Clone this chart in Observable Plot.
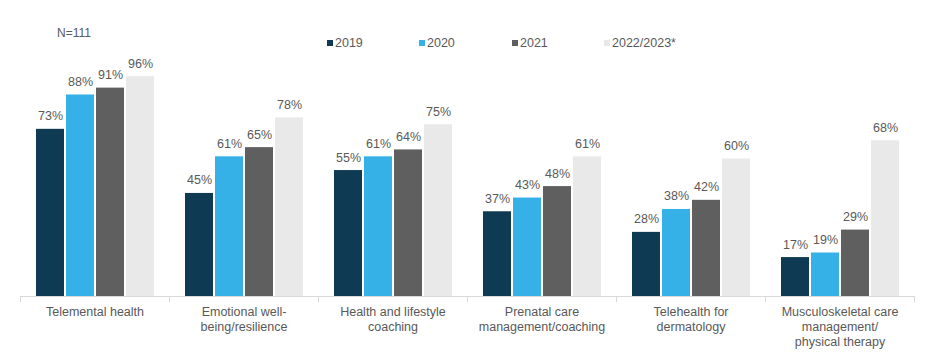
<!DOCTYPE html>
<html><head><meta charset="utf-8">
<script src="https://cdn.jsdelivr.net/npm/d3@7"></script>
<script src="https://cdn.jsdelivr.net/npm/@observablehq/plot@0.6"></script>
<style>
body{margin:0;background:#fff;font-family:"Liberation Sans",Arial,sans-serif;}
#wrap{position:relative;width:925px;height:361px;overflow:hidden}
#chart svg{position:absolute;left:0;top:0}
.t{position:absolute;color:#595959;font-size:12.5px;line-height:14px;white-space:nowrap}
.sw{position:absolute;width:6px;height:6px}
</style></head><body>
<div id="wrap"><div id="chart"></div><div id="legend"></div><div class="t" style="left:57px;top:26px;font-size:12px">N=111</div></div>
<script>
const categories = ["Telemental health","Emotional well-being/resilience","Health and lifestyle coaching","Prenatal care management/coaching","Telehealth for dermatology","Musculoskeletal care management/physical therapy"];
const categoryLabels = ["Telemental health","Emotional well-\nbeing/resilience","Health and lifestyle\ncoaching","Prenatal care\nmanagement/coaching","Telehealth for\ndermatology","Musculoskeletal care\nmanagement/\nphysical therapy"];
const years = ["2019","2020","2021","2022/2023*"];
const v2019 = [73,45,55,37,28,17];
const v2020 = [88,61,61,43,38,19];
const v2021 = [91,65,64,48,42,29];
const v2022 = [96,78,75,61,60,68];
const colors = ["#0f3a53","#36b1e7","#5f5f5f","#e9e9e9"];

const series = [v2019, v2020, v2021, v2022];
const data = [];
categories.forEach((c, i) => years.forEach((y, k) => data.push({category: c, year: y, value: series[k][i]})));
const labelRows = categories.map((c, i) => ({category: c, label: categoryLabels[i]}));

const grid = "#d9d9d9";
const textColor = "#595959";
const chart = Plot.plot({
  width: 925, height: 361,
  marginTop: 67, marginBottom: 65, marginLeft: 20, marginRight: 11,
  style: {fontFamily: "Liberation Sans, Arial, sans-serif", fontSize: "12.5px", background: "white"},
  fx: {domain: categories, padding: 0, axis: null},
  x: {domain: years, paddingInner: 2/30, paddingOuter: 0.5, axis: null},
  y: {domain: [0, 100], axis: null},
  color: {domain: years, range: colors},
  marks: [
    Plot.barY(data, {fx: "category", x: "year", y: "value", fill: "year"}),
    Plot.text(data, {fx: "category", x: "year", y: "value", text: d => d.value + "%", dy: -13, fill: textColor, fontSize: 12.5}),
    Plot.ruleY([0], {stroke: grid}),
    Plot.ruleX(categories, {fx: d => d, x: () => years[0], y1: 0, y2: -2.7, dx: -30, stroke: grid}),
    Plot.ruleX([categories[categories.length - 1]], {fx: d => d, x: () => years[0], y1: 0, y2: -2.7, dx: 119, stroke: grid}),
    Plot.text(labelRows, {fx: "category", text: "label", frameAnchor: "bottom", lineAnchor: "top", dy: 8.5, lineHeight: 1.22, fill: textColor, fontSize: 12.5})
  ]
});
document.getElementById("chart").appendChild(chart);

const legend = document.getElementById("legend");
const legendX = [327, 419, 512, 604];
years.forEach((y, k) => {
  const sw = document.createElement("div");
  sw.className = "sw";
  sw.style.left = legendX[k] + "px";
  sw.style.top = "40px";
  sw.style.background = colors[k];
  legend.appendChild(sw);
  const t = document.createElement("div");
  t.className = "t";
  t.style.left = (legendX[k] + 8) + "px";
  t.style.top = "36px";
  t.textContent = y;
  legend.appendChild(t);
});
</script>
</body></html>
